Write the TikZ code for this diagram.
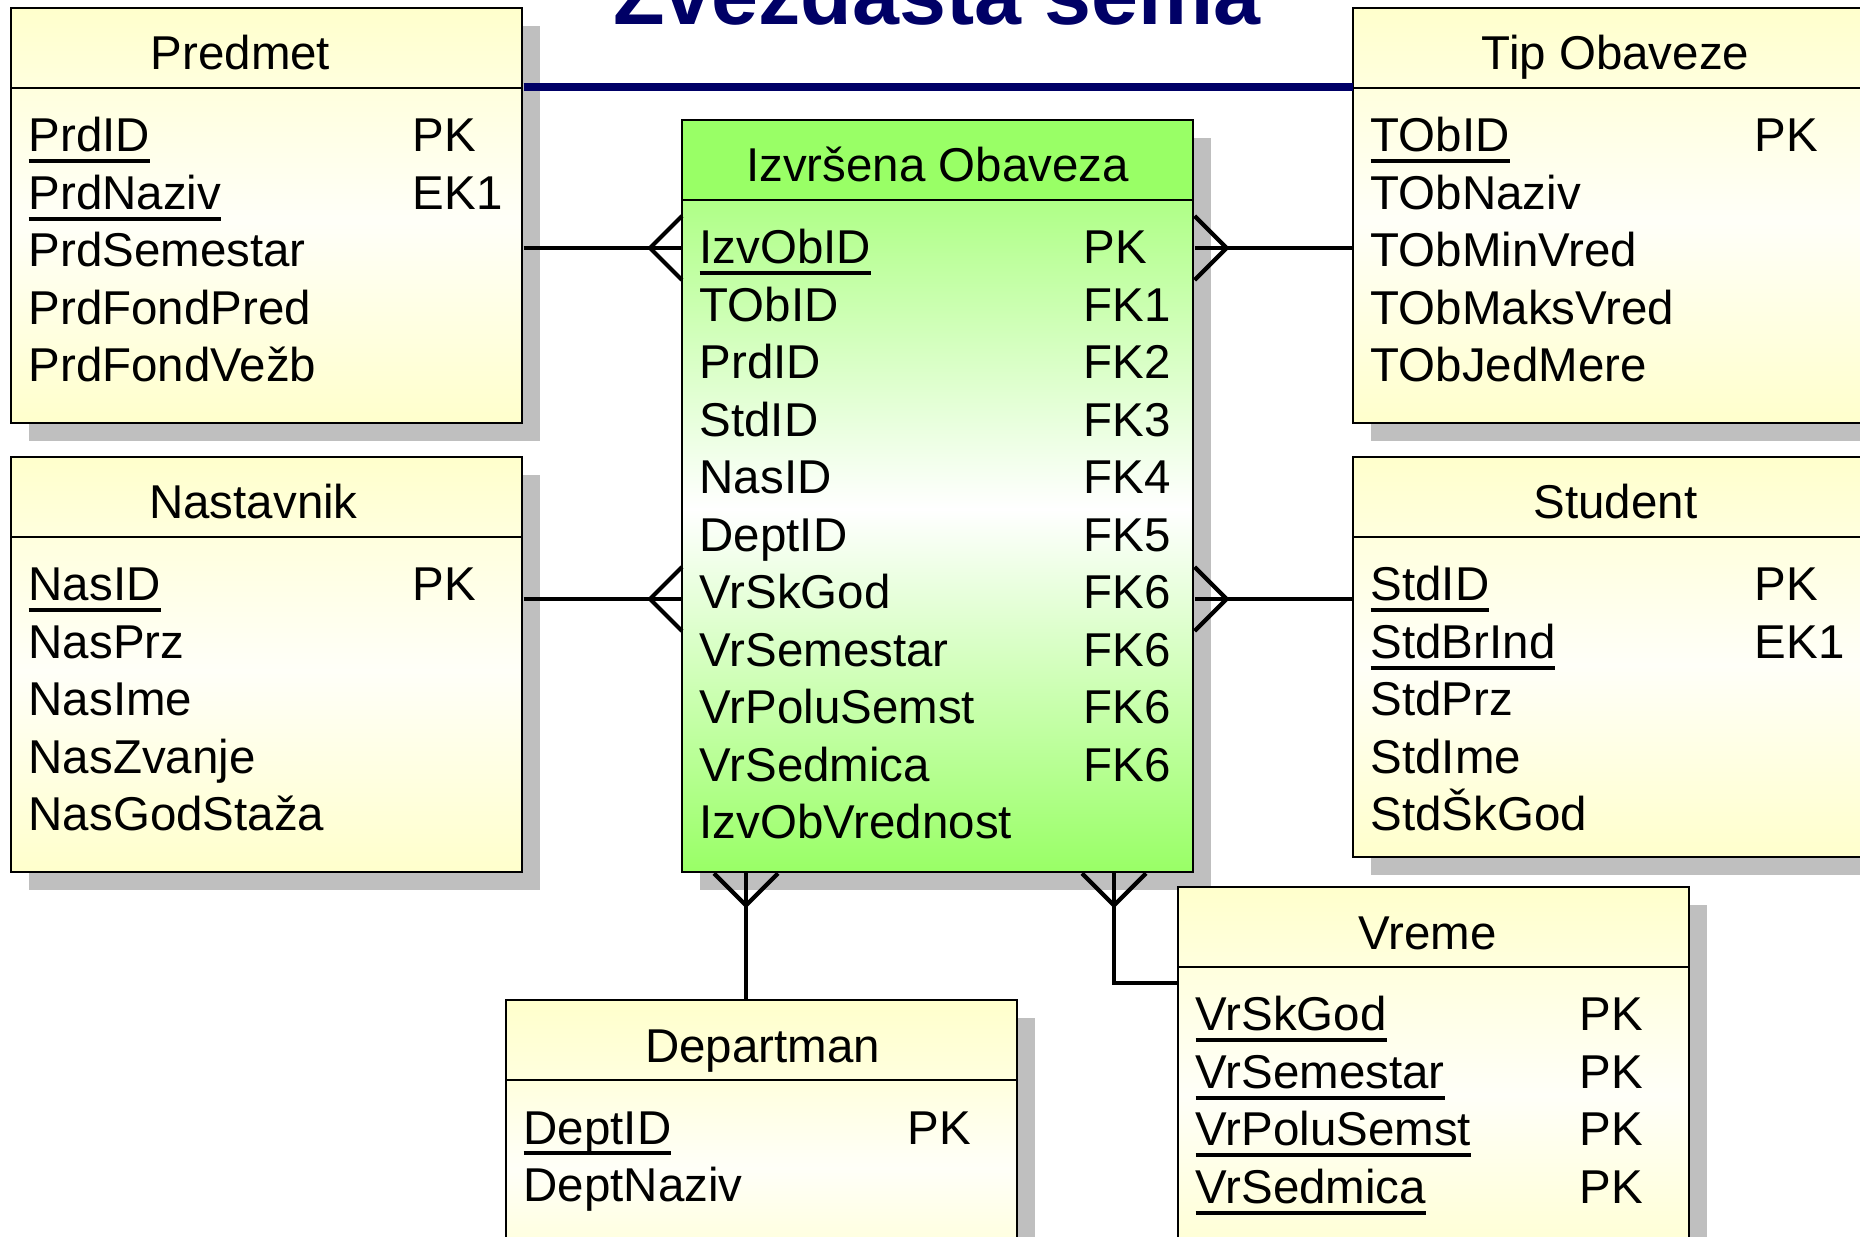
\documentclass[tikz,border=0pt]{standalone}
\usepackage{fontspec}
\setmainfont{Liberation Sans}
\usetikzlibrary{calc}

\definecolor{teget}{RGB}{0,0,102}
\definecolor{zuta}{RGB}{255,255,204}
\definecolor{zutasvetla}{RGB}{255,255,222}
\definecolor{zutabela}{RGB}{255,255,248}
\definecolor{zelena}{RGB}{153,255,102}
\definecolor{zelenasvetla}{RGB}{175,255,135}
\definecolor{senka}{RGB}{191,191,191}

\pgfdeclareverticalshading{zutotelo}{100bp}{color(0bp)=(zuta); color(25bp)=(zuta); color(55bp)=(zutabela); color(75bp)=(zutasvetla); color(100bp)=(zutasvetla)}
\pgfdeclareverticalshading{zelenotelo}{100bp}{color(0bp)=(zelena); color(25bp)=(zelena); color(52bp)=(white); color(75bp)=(zelenasvetla); color(100bp)=(zelenasvetla)}

\newsavebox\kljucbox
\newcommand\Kljuc[1]{\sbox\kljucbox{#1}\rlap{\rule[-3.2pt]{\wd\kljucbox}{1.1pt}}\usebox\kljucbox}

% [pomak naslova] ime, x, y, visina, boja, naslov, polja
\newcommand\Tabela[8][0]{%
	\fill[senka] (#3+18,#4+18) rectangle ++(511,#5);
	\shade[#6 zaglavlje] (#3,#4) rectangle ++(511,80);
	\shade[#6 telo] (#3,#4+80) rectangle ++(511,#5-80);
	\draw[okvir] (#3,#4) rectangle ++(511,#5);
	\draw[okvir] (#3,#4+80) -- ++(511,0);
	\node[inner sep=0pt, minimum width=5.11cm, minimum height=#5*0.01cm, anchor=north west] (#2) at (#3,#4) {};
	\node[tekst, anchor=base] (#2-ime) at (#3+255.5+#1,#4+62) {#7};
	\foreach \polje/\kljuc [count=\i] in {#8}{
		\node[tekst, anchor=base west] (#2-\i) at (#3+17,#4+86.5+57.5*\i) {\polje};
		\node[tekst, anchor=base west] (#2-k\i) at (#3+401,#4+86.5+57.5*\i) {\kljuc};
	}
}

\newcommand\Vrana[3]{%
	\draw[veza] ($(#1)+(#3,#2)$) -- ($(#1)+(#2,#3)$) -- ($(#1)-(#3,#2)$);
}

\begin{document}
\begin{tikzpicture}[x=0.01cm, y=-0.01cm,
		okvir/.style={draw=black, line width=0.8pt},
		veza/.style={draw=black, line width=1.2pt},
		tekst/.style={inner sep=0pt, font=\fontsize{13.5}{16}\selectfont},
		naslov/.style={inner sep=0pt, text=teget, font=\fontsize{24}{28}\selectfont\bfseries},
		zuta zaglavlje/.style={top color=zuta, bottom color=zutasvetla},
		zuta telo/.style={shading=zutotelo},
		zelena zaglavlje/.style={top color=zelena, bottom color=zelena},
		zelena telo/.style={shading=zelenotelo}]
	\useasboundingbox (0,0) rectangle (1860,1237);
	\clip (0,0) rectangle (1860,1237);

	\node[naslov, anchor=base] (zvezda) at (937,25) {Zvezdasta šema};

	\Tabela[-26]{predmet}{11}{8}{415}{zuta}{Predmet}{%
		\Kljuc{PrdID}/PK, \Kljuc{PrdNaziv}/EK1, PrdSemestar/{}, PrdFondPred/{}, PrdFondVežb/{}}
	\Tabela[-13]{nastavnik}{11}{457}{415}{zuta}{Nastavnik}{%
		\Kljuc{NasID}/PK, NasPrz/{}, NasIme/{}, NasZvanje/{}, NasGodStaža/{}}
	\Tabela[7]{tip}{1353}{8}{415}{zuta}{Tip Obaveze}{%
		\Kljuc{TObID}/PK, TObNaziv/{}, TObMinVred/{}, TObMaksVred/{}, TObJedMere/{}}
	\Tabela[7]{student}{1353}{457}{400}{zuta}{Student}{%
		\Kljuc{StdID}/PK, \Kljuc{StdBrInd}/EK1, StdPrz/{}, StdIme/{}, StdŠkGod/{}}
	\Tabela{izv}{682}{120}{752}{zelena}{Izvršena Obaveza}{%
		\Kljuc{IzvObID}/PK, TObID/FK1, PrdID/FK2, StdID/FK3, NasID/FK4, DeptID/FK5,
		VrSkGod/FK6, VrSemestar/FK6, VrPoluSemst/FK6, VrSedmica/FK6, IzvObVrednost/{}}
	\Tabela[1]{departman}{506}{1000}{300}{zuta}{Departman}{%
		\Kljuc{DeptID}/PK, DeptNaziv/{}}
	\Tabela[-6]{vreme}{1178}{887}{400}{zuta}{Vreme}{%
		\Kljuc{VrSkGod}/PK, \Kljuc{VrSemestar}/PK, \Kljuc{VrPoluSemst}/PK, \Kljuc{VrSedmica}/PK}

	\coordinate (crta) at (0,87);
	\draw[teget, line width=0.075cm] (predmet.east |- crta) -- (tip.west |- crta);

	% veze
	\coordinate (k1) at (0,248);
	\coordinate (k2) at (0,599);
	\coordinate (k3) at (746,0);
	\coordinate (k4) at (1114,983);
	\draw[veza] (predmet.east |- k1) -- (izv.west |- k1);
	\draw[veza] (tip.west |- k1) -- (izv.east |- k1);
	\draw[veza] (nastavnik.east |- k2) -- (izv.west |- k2);
	\draw[veza] (student.west |- k2) -- (izv.east |- k2);
	\draw[veza] (izv.south -| k3) -- (departman.north -| k3);
	\draw[veza] (izv.south -| k4) |- (vreme.west |- k4);
	\Vrana{izv.west |- k1}{-32}{0}
	\Vrana{izv.east |- k1}{32}{0}
	\Vrana{izv.west |- k2}{-32}{0}
	\Vrana{izv.east |- k2}{32}{0}
	\Vrana{izv.south -| k3}{0}{32}
	\Vrana{izv.south -| k4}{0}{32}
\end{tikzpicture}
\end{document}
